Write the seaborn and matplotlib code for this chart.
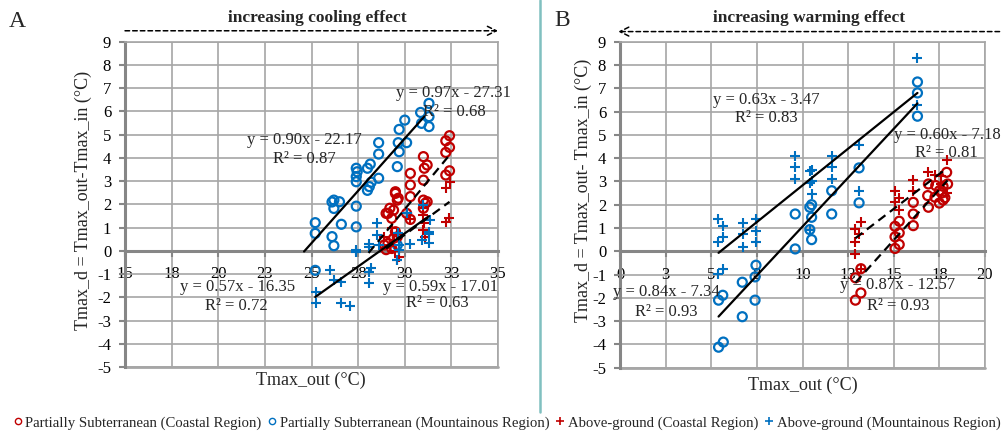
import matplotlib
matplotlib.use('Agg')
import matplotlib.pyplot as plt
from matplotlib.lines import Line2D
import numpy as np
import pandas as pd
import seaborn as sns

BLUE = '#0070C0'
RED = '#C00000'
GRID = '#A6A6A6'
AXIS = '#868686'

# ---- panel A data (Tmax_out, Tmax_d) ----
A_SUB_COAST_X = [32.4, 32.2, 32.4, 32.2, 32.4, 32.2, 31.0, 31.2, 31.05, 31.0, 31.2, 30.3, 30.3, 30.3,
                 30.3, 29.5, 29.6, 29.5, 29.65, 29.2, 29.0, 29.1, 29.4, 29.3, 30.1, 31.0, 31.1, 31.0,
                 29.5, 29.4, 29.1, 28.9, 29.3, 29.6, 29.0]
A_SUB_COAST_Y = [4.95, 4.73, 4.45, 4.23, 3.44, 3.26, 4.05, 3.69, 3.55, 3.04, 2.11, 3.33, 2.83, 2.33,
                 1.35, 2.54, 2.18, 2.47, 2.26, 1.83, 1.61, 1.61, 1.75, 1.40, 1.61, 2.18, 2.04, 1.83,
                 0.82, 0.54, 0.32, 0.25, 0.10, 0.60, 0.05]
A_SUB_MOUNT_X = [31.3, 30.85, 31.3, 30.9, 31.3, 30.0, 29.7, 29.65, 30.1, 29.7, 29.6, 28.6, 28.6, 28.15,
                 28.0, 28.6, 28.1, 28.2, 27.4, 27.45, 27.4, 27.4, 26.2, 26.1, 26.5, 26.2, 27.4, 28.0,
                 25.2, 25.2, 26.6, 27.4, 26.1, 26.2, 29.6, 25.2]
A_SUB_MOUNT_Y = [6.34, 5.95, 5.77, 5.48, 5.34, 5.62, 5.22, 4.65, 4.65, 4.26, 3.62, 4.65, 4.16, 3.73,
                 3.55, 3.12, 2.76, 2.95, 3.55, 3.40, 3.19, 2.97, 2.18, 2.10, 2.11, 1.82, 1.92, 2.60,
                 1.21, 0.75, 1.14, 1.03, 0.61, 0.22, 0.25, -0.84]
A_ABOVE_COAST_X = [32.4, 32.2, 32.35, 32.2, 31.0, 31.0, 31.05, 31.0, 31.1, 30.3, 29.3, 29.6, 29.4,
                   29.6, 29.7, 29.2, 28.9, 29.5]
A_ABOVE_COAST_Y = [2.97, 2.68, 1.40, 1.25, 1.83, 1.54, 1.20, 0.89, 0.61, 1.35, 0.96, 0.75, 0.46,
                   -0.40, -0.28, 0.20, 0.60, 0.00]
A_ABOVE_MOUNT_X = [25.24, 25.24, 26.6, 27.06, 26.0, 26.2, 26.6, 27.4, 27.4, 28.06, 28.2, 28.06, 28.5,
                   28.5, 28.6, 28.1, 28.1, 29.65, 29.7, 30.1, 31.0, 31.35, 31.3, 30.9, 31.3, 31.3,
                   29.6, 29.7, 30.3]
A_ABOVE_MOUNT_Y = [-1.76, -2.26, -2.26, -2.38, -0.83, -1.26, -1.33, 0.03, -0.04, -0.90, -0.76, -1.37,
                   1.18, 0.68, 0.25, 0.28, 0.17, 0.75, 0.25, 1.61, 1.97, 1.32, 0.82, 0.46, 0.32, 0.72,
                   -0.40, 0.03, 0.30]

# ---- panel B data ----
B_SUB_COAST_X = [12.9, 13.2, 12.9, 13.2, 15.07, 15.07, 15.07, 15.3, 15.3, 15.3, 16.07, 16.07, 16.07,
                 16.9, 16.86, 16.9, 17.3, 17.26, 17.5, 17.7, 17.63, 17.7, 17.9, 17.95, 17.5, 17.8]
B_SUB_COAST_Y = [-1.14, -0.75, -2.10, -1.79, 1.07, 0.62, 0.12, 1.29, 0.79, 0.29, 2.10, 1.60, 1.10,
                 2.89, 2.39, 1.89, 2.82, 2.32, 2.07, 2.79, 2.50, 2.20, 3.39, 2.89, 2.60, 2.30]
B_SUB_MOUNT_X = [16.3, 16.3, 16.3, 13.1, 13.1, 11.6, 11.6, 9.6, 9.6, 10.4, 10.5, 10.5, 10.4, 10.5,
                 7.45, 7.4, 7.4, 6.7, 6.7, 5.63, 5.4, 5.4, 5.66]
B_SUB_MOUNT_Y = [7.27, 6.80, 5.80, 3.58, 2.08, 2.60, 1.60, 1.60, 0.10, 1.89, 2.00, 1.46, 0.93, 0.50,
                 -0.60, -1.10, -2.10, -1.33, -2.81, -1.89, -2.10, -4.12, -3.90]
B_ABOVE_COAST_X = [12.88, 12.88, 12.88, 13.2, 13.1, 13.2, 15.07, 15.07, 15.3, 15.3, 16.07, 16.07,
                   16.9, 17.26, 17.6, 17.9, 17.9, 17.6]
B_ABOVE_COAST_Y = [0.96, 0.39, -0.10, 1.24, 0.72, -0.75, 2.57, 2.10, 2.29, 1.79, 3.07, 2.57,
                   3.39, 3.29, 3.22, 3.90, 2.50, 2.90]
B_ABOVE_MOUNT_X = [16.3, 16.3, 13.1, 13.1, 11.6, 11.6, 11.6, 9.6, 9.6, 9.6, 10.4, 10.5, 10.4, 10.5,
                   10.5, 10.4, 5.39, 5.63, 5.63, 5.39, 6.72, 6.72, 6.72, 7.45, 7.45, 7.45, 5.63, 5.39]
B_ABOVE_MOUNT_Y = [8.29, 6.29, 4.57, 2.57, 4.10, 3.60, 3.10, 4.10, 3.60, 3.10, 3.43, 3.50, 2.93, 3.00,
                   2.47, 0.93, 1.39, 1.10, 0.60, 0.39, 1.22, 0.72, 0.19, 1.39, 0.89, 0.39, -0.76, -0.97]

# ---- trendlines: group, slope, intercept, R2, x range ----
A_FIT_GROUP = ['sub_mount', 'sub_coast', 'above_mount', 'above_coast']
A_FIT_SLOPE = [0.90, 0.97, 0.57, 0.59]
A_FIT_INTERCEPT = [-22.17, -27.31, -16.35, -17.01]
A_FIT_R2 = [0.87, 0.68, 0.72, 0.63]
A_FIT_XMIN = [24.6, 28.06, 25.2, 29.0]
A_FIT_XMAX = [31.05, 32.35, 31.3, 32.4]

B_FIT_GROUP = ['above_mount', 'above_coast', 'sub_mount', 'sub_coast']
B_FIT_SLOPE = [0.63, 0.60, 0.84, 0.87]
B_FIT_INTERCEPT = [-3.47, -7.18, -7.34, -12.57]
B_FIT_R2 = [0.83, 0.81, 0.93, 0.93]
B_FIT_XMIN = [5.4, 12.9, 5.4, 12.9]
B_FIT_XMAX = [16.3, 17.9, 16.3, 17.95]

A_XTICKLABELS = ['15', '18', '20', '23', '25', '28', '30', '33', '35']
B_XTICKLABELS = ['0', '3', '5', '8', '10', '13', '15', '18', '20']

# label layout (data coords of equation line and R2 line)
A_LABEL_POS = [((21.54, 4.76), (22.94, 3.95)), ((29.53, 6.78), (30.98, 5.97)),
               ((17.95, -1.56), (19.3, -2.36)), ((28.83, -1.56), (30.07, -2.25))]
B_LABEL_POS = [((5.08, 6.51), (6.3, 5.74)), ((15.01, 5.01), (16.16, 4.24)),
               ((-0.38, -1.77), (0.82, -2.59)), ((12.05, -1.47), (13.53, -2.33))]

GROUP_STYLE = {
    'sub_coast': dict(marker='o', color=RED, dashed=True),
    'sub_mount': dict(marker='o', color=BLUE, dashed=False),
    'above_coast': dict(marker='+', color=RED, dashed=True),
    'above_mount': dict(marker='+', color=BLUE, dashed=False),
}
LEGEND_LABELS = {
    'sub_coast': 'Partially Subterranean (Coastal Region)',
    'sub_mount': 'Partially Subterranean (Mountainous Region)',
    'above_coast': 'Above-ground (Coastal Region)',
    'above_mount': 'Above-ground (Mountainous Region)',
}


def make_frame(panel, groups):
    rows = []
    for group, (xs, ys) in groups.items():
        for x, y in zip(xs, ys):
            rows.append({'panel': panel, 'group': group, 'x': x, 'y': y})
    return pd.DataFrame(rows)


df = pd.concat([
    make_frame('A', {'sub_coast': (A_SUB_COAST_X, A_SUB_COAST_Y),
                     'sub_mount': (A_SUB_MOUNT_X, A_SUB_MOUNT_Y),
                     'above_coast': (A_ABOVE_COAST_X, A_ABOVE_COAST_Y),
                     'above_mount': (A_ABOVE_MOUNT_X, A_ABOVE_MOUNT_Y)}),
    make_frame('B', {'sub_coast': (B_SUB_COAST_X, B_SUB_COAST_Y),
                     'sub_mount': (B_SUB_MOUNT_X, B_SUB_MOUNT_Y),
                     'above_coast': (B_ABOVE_COAST_X, B_ABOVE_COAST_Y),
                     'above_mount': (B_ABOVE_MOUNT_X, B_ABOVE_MOUNT_Y)}),
], ignore_index=True)

sns.set_theme(style='white')
plt.rcParams['font.family'] = ['Liberation Serif', 'DejaVu Serif']
plt.rcParams['axes.unicode_minus'] = False


def draw_panel(ax, data, xmin, xticklabels, fits, label_pos):
    xticks = xmin + 2.5 * np.arange(len(xticklabels))
    ax.set_xlim(xticks[0], xticks[-1])
    ax.set_ylim(-5, 9)
    ax.set_xticks(xticks)
    ax.set_xticklabels(xticklabels)
    ax.set_yticks(np.arange(-5, 10))

    ax.grid(True, color=GRID, linewidth=1.2)
    ax.set_axisbelow(True)
    ax.axhline(-5, color=GRID, linewidth=2, clip_on=False, zorder=0.5)
    for side in ['top', 'right']:
        ax.spines[side].set_color(GRID)
        ax.spines[side].set_linewidth(1.2)
    for side in ['left', 'bottom']:
        ax.spines[side].set_color(AXIS)
        ax.spines[side].set_linewidth(2.2)
    ax.spines['bottom'].set_position(('data', 0))
    ax.tick_params(axis='both', direction='out', length=4, width=1.5, color=AXIS,
                   labelsize=12, labelcolor='black')
    ax.tick_params(axis='y', pad=6, left=True)
    ax.tick_params(axis='x', pad=7, bottom=True)

    for group in ['sub_mount', 'sub_coast', 'above_coast', 'above_mount']:
        sub = data[data['group'] == group]
        st = GROUP_STYLE[group]
        if st['marker'] == 'o':
            sns.scatterplot(x=sub['x'], y=sub['y'], ax=ax, marker='o', s=42,
                            facecolor='none', edgecolor=st['color'], linewidth=1.6, zorder=3)
        else:
            sns.scatterplot(x=sub['x'], y=sub['y'], ax=ax, marker='+', s=55,
                            color=st['color'], linewidth=1.5, zorder=3)

    group, slope, intercept, r2, x0, x1 = fits
    for i in range(len(group)):
        xs = np.array([x0[i], x1[i]])
        ys = slope[i] * xs + intercept[i]
        ls = (0, (4, 2.5)) if GROUP_STYLE[group[i]]['dashed'] else '-'
        ax.plot(xs, ys, color='black', linewidth=1.6, linestyle=ls, zorder=4)
        (ex, ey), (rx, ry) = label_pos[i]
        sign = '-' if intercept[i] < 0 else '+'
        ax.text(ex, ey, f'y = {slope[i]:.2f}x {sign} {abs(intercept[i]):.2f}', fontsize=12,
                ha='left', va='center', zorder=5)
        ax.text(rx, ry, f'R² = {r2[i]:.2f}', fontsize=12, ha='left', va='center', zorder=5)

    ax.set_xlabel('')
    ax.set_ylabel('')


fig = plt.figure(figsize=(10.01, 4.37), dpi=100)
ax_a = fig.add_axes([0.1249, 0.160, 0.3726, 0.745])
ax_b = fig.add_axes([0.6194, 0.1586, 0.3646, 0.746])

draw_panel(ax_a, df[df['panel'] == 'A'], 15, A_XTICKLABELS,
           (A_FIT_GROUP, A_FIT_SLOPE, A_FIT_INTERCEPT, A_FIT_R2, A_FIT_XMIN, A_FIT_XMAX), A_LABEL_POS)
draw_panel(ax_b, df[df['panel'] == 'B'], 0, B_XTICKLABELS,
           (B_FIT_GROUP, B_FIT_SLOPE, B_FIT_INTERCEPT, B_FIT_R2, B_FIT_XMIN, B_FIT_XMAX), B_LABEL_POS)

# axis titles
ax_a.text(-0.112, 0.513, 'Tmax_d = Tmax_out-Tmax_in (°C)', transform=ax_a.transAxes,
          rotation=90, ha='center', va='center', fontsize=13)
ax_b.text(-0.101, 0.545, 'Tmax_d = Tmax_out- Tmax_in (°C)', transform=ax_b.transAxes,
          rotation=90, ha='center', va='center', fontsize=13)
ax_a.text(0.499, -0.04, 'Tmax_out (°C)', transform=ax_a.transAxes, ha='center', va='center', fontsize=13)
ax_b.text(0.50, -0.053, 'Tmax_out (°C)', transform=ax_b.transAxes, ha='center', va='center', fontsize=13)

# effect arrows
ax_a.annotate('', xy=(1.0, 1.033), xytext=(0.0, 1.033), xycoords='axes fraction',
              arrowprops=dict(arrowstyle='->', linestyle=(0, (3, 2)), color='black', lw=1.1,
                              mutation_scale=16, shrinkA=0, shrinkB=0), annotation_clip=False)
ax_a.text(0.515, 1.072, 'increasing cooling effect', transform=ax_a.transAxes,
          ha='center', va='center', fontsize=12.5, fontweight='bold')
ax_b.annotate('', xy=(-0.005, 1.031), xytext=(1.04, 1.031), xycoords='axes fraction',
              arrowprops=dict(arrowstyle='->', linestyle=(0, (3, 2)), color='black', lw=1.1,
                              mutation_scale=16, shrinkA=0, shrinkB=0), annotation_clip=False)
ax_b.text(0.518, 1.072, 'increasing warming effect', transform=ax_b.transAxes,
          ha='center', va='center', fontsize=12.5, fontweight='bold')

fig.text(0.017, 0.95, 'A', ha='center', va='center', fontsize=17)
fig.text(0.562, 0.954, 'B', ha='center', va='center', fontsize=17)

# separator between panels
fig.add_artist(Line2D([0.5395, 0.5395], [0.057, 1.0], color='#80C0C0', linewidth=1.8))

# legend
handles = []
for group in ['sub_coast', 'sub_mount', 'above_coast', 'above_mount']:
    st = GROUP_STYLE[group]
    if st['marker'] == 'o':
        handles.append(Line2D([], [], linestyle='none', marker='o', markersize=4.5,
                              markerfacecolor='none', markeredgecolor=st['color'], markeredgewidth=1))
    else:
        handles.append(Line2D([], [], linestyle='none', marker='+', markersize=6,
                              markeredgecolor=st['color'], markeredgewidth=1.2))
fig.legend(handles, [LEGEND_LABELS[g] for g in ['sub_coast', 'sub_mount', 'above_coast', 'above_mount']],
           loc='center', bbox_to_anchor=(0.506, 0.032), ncol=4, frameon=False, fontsize=10.6,
           handletextpad=0.15, columnspacing=0.4, handlelength=0.7, borderpad=0)

fig.savefig('out.png', dpi=100)
